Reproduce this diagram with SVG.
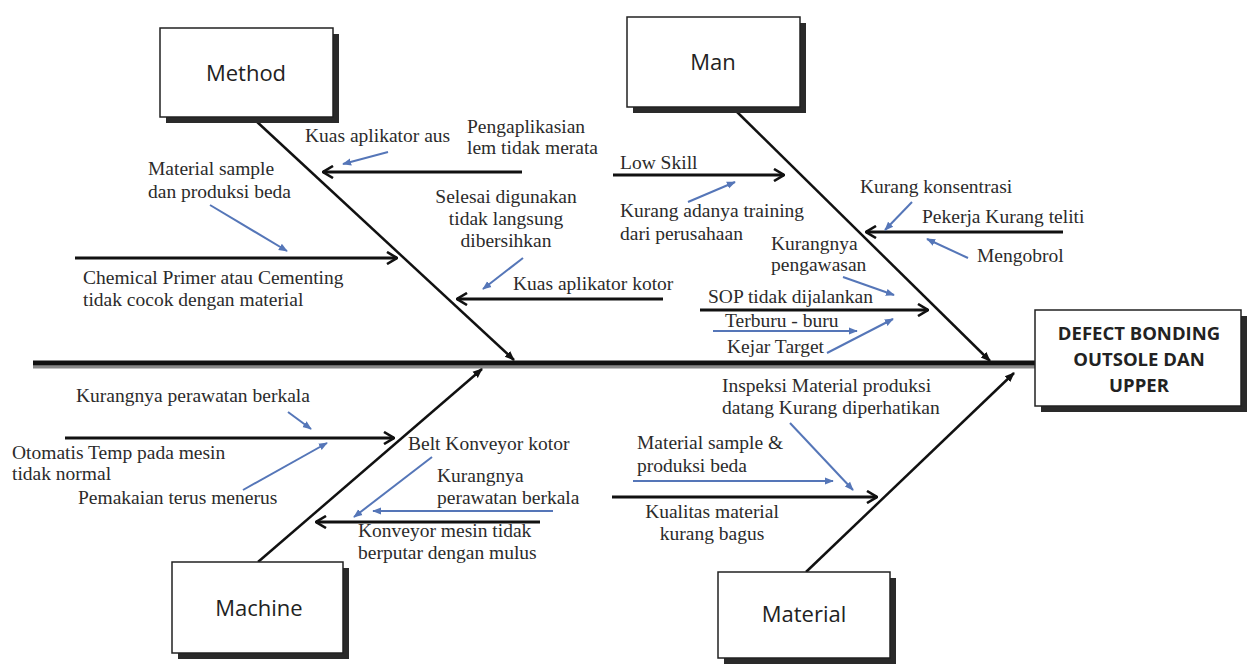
<svg xmlns="http://www.w3.org/2000/svg" width="1247" height="664" viewBox="0 0 1247 664">
<style>
.lbl{font-family:"Liberation Serif","Times New Roman",serif;font-size:19.5px;fill:#2b2b2b}
.box{fill:#fff;stroke:#222;stroke-width:1.5}
.shd{fill:#2a2a2a}
.bt{font-family:"Open Sans","Liberation Sans",sans-serif;font-size:22px;fill:#222;text-anchor:middle}
.et{font-family:"Open Sans","Liberation Sans",sans-serif;font-size:18.5px;font-weight:bold;fill:#222;text-anchor:middle}
.bone{stroke:#111;stroke-width:2.5;fill:none;marker-end:url(#bh)}
.sub{stroke:#111;stroke-width:3;fill:none;marker-end:url(#ch)}
.blue{stroke:#5576b8;stroke-width:2;fill:none;marker-end:url(#blh)}
</style>
<defs>
<marker id="ch" markerUnits="userSpaceOnUse" viewBox="0 0 12 14" refX="11" refY="7" markerWidth="12" markerHeight="14" orient="auto">
<path d="M1,1 L11,7 L1,13" fill="none" stroke="#111" stroke-width="2.6"/>
</marker>
<marker id="bh" markerUnits="userSpaceOnUse" viewBox="0 0 10 10" refX="9" refY="5" markerWidth="10" markerHeight="10" orient="auto">
<path d="M0,1 L10,5 L0,9 Z" fill="#111"/>
</marker>
<marker id="blh" markerUnits="userSpaceOnUse" viewBox="0 0 10 10" refX="9" refY="5" markerWidth="9" markerHeight="9" orient="auto">
<path d="M0,1 L10,5 L0,9 Z" fill="#5576b8"/>
</marker>
</defs>
<rect width="1247" height="664" fill="#fff"/>

<g id="connectors">
<line x1="33" y1="367" x2="1035" y2="367" stroke="#888" stroke-width="3"/>
<line x1="33" y1="363" x2="1035" y2="363" stroke="#111" stroke-width="5"/>
<line class="bone" x1="255" y1="120" x2="514" y2="360"/>
<line class="bone" x1="733" y1="108" x2="990" y2="361"/>
<line class="bone" x1="258" y1="562" x2="482" y2="369"/>
<line class="bone" x1="806" y1="572" x2="1014" y2="373"/>
<line class="sub" x1="522" y1="172" x2="323" y2="172"/>
<line class="sub" x1="75" y1="258" x2="397" y2="258"/>
<line class="sub" x1="663" y1="299" x2="457" y2="299"/>
<line class="sub" x1="613" y1="175" x2="784" y2="175"/>
<line class="sub" x1="1063" y1="232" x2="866" y2="232"/>
<line class="sub" x1="700" y1="310" x2="928" y2="310"/>
<line class="sub" x1="65" y1="438" x2="394" y2="438"/>
<line class="sub" x1="540" y1="522" x2="316" y2="522"/>
<line class="sub" x1="612" y1="497" x2="877" y2="497"/>
<line class="blue" x1="388" y1="152" x2="343" y2="164"/>
<line class="blue" x1="210" y1="205" x2="287" y2="251"/>
<line class="blue" x1="523" y1="258" x2="483" y2="289"/>
<line class="blue" x1="688" y1="202" x2="735" y2="182"/>
<line class="blue" x1="912" y1="202" x2="885" y2="230"/>
<line class="blue" x1="968" y1="258" x2="927" y2="239"/>
<line class="blue" x1="843" y1="277" x2="894" y2="295"/>
<line class="blue" x1="713" y1="331" x2="857" y2="331"/>
<line class="blue" x1="827" y1="353" x2="893" y2="319"/>
<line class="blue" x1="288" y1="412" x2="311" y2="429"/>
<line class="blue" x1="243" y1="490" x2="327" y2="443"/>
<line class="blue" x1="432" y1="457" x2="354" y2="517"/>
<line class="blue" x1="553" y1="511" x2="373" y2="511"/>
<line class="blue" x1="790" y1="423" x2="853" y2="490"/>
<line class="blue" x1="633" y1="481" x2="833" y2="481"/>
</g>

<g id="method">
<rect class="shd" x="166" y="34" width="173" height="89"/>
<rect class="box" x="160" y="28" width="173" height="89"/>
<text class="bt" x="246" y="81">Method</text>
</g>
<g id="man">
<rect class="shd" x="633" y="23" width="173" height="90"/>
<rect class="box" x="627" y="17" width="173" height="90"/>
<text class="bt" x="713" y="70">Man</text>
</g>
<g id="machine">
<rect class="shd" x="178" y="568" width="171" height="91"/>
<rect class="box" x="172" y="562" width="171" height="91"/>
<text class="bt" x="259" y="616">Machine</text>
</g>
<g id="material">
<rect class="shd" x="724" y="578" width="172" height="86"/>
<rect class="box" x="718" y="572" width="172" height="86"/>
<text class="bt" x="804" y="622">Material</text>
</g>
<g id="effect">
<rect class="shd" x="1041" y="316" width="206" height="96"/>
<rect class="box" x="1035" y="310" width="206" height="96"/>
<text class="et" x="1139" y="340">DEFECT BONDING</text>
<text class="et" x="1139" y="366">OUTSOLE DAN</text>
<text class="et" x="1139" y="392">UPPER</text>
</g>

<g id="labels">
<text class="lbl" x="305" y="142">Kuas aplikator aus</text>
<text class="lbl" x="467" y="133">Pengaplikasian</text>
<text class="lbl" x="467" y="154">lem tidak merata</text>
<text class="lbl" x="148" y="175">Material sample</text>
<text class="lbl" x="148" y="198">dan produksi beda</text>
<text class="lbl" x="83" y="284">Chemical Primer atau Cementing</text>
<text class="lbl" x="83" y="306">tidak cocok dengan material</text>
<text class="lbl" x="506" y="203" text-anchor="middle">Selesai digunakan</text>
<text class="lbl" x="506" y="225" text-anchor="middle">tidak langsung</text>
<text class="lbl" x="506" y="247" text-anchor="middle">dibersihkan</text>
<text class="lbl" x="513" y="290">Kuas aplikator kotor</text>
<text class="lbl" x="620" y="169">Low Skill</text>
<text class="lbl" x="620" y="217">Kurang adanya training</text>
<text class="lbl" x="620" y="240">dari perusahaan</text>
<text class="lbl" x="860" y="193">Kurang konsentrasi</text>
<text class="lbl" x="922" y="223">Pekerja Kurang teliti</text>
<text class="lbl" x="977" y="262">Mengobrol</text>
<text class="lbl" x="771" y="250">Kurangnya</text>
<text class="lbl" x="771" y="271">pengawasan</text>
<text class="lbl" x="708" y="303">SOP tidak dijalankan</text>
<text class="lbl" x="725" y="327">Terburu - buru</text>
<text class="lbl" x="727" y="353">Kejar Target</text>
<text class="lbl" x="76" y="402">Kurangnya perawatan berkala</text>
<text class="lbl" x="12" y="459">Otomatis Temp pada mesin</text>
<text class="lbl" x="12" y="480">tidak normal</text>
<text class="lbl" x="78" y="504">Pemakaian terus menerus</text>
<text class="lbl" x="408" y="450">Belt Konveyor kotor</text>
<text class="lbl" x="437" y="482">Kurangnya</text>
<text class="lbl" x="437" y="504">perawatan berkala</text>
<text class="lbl" x="358" y="537">Konveyor mesin tidak</text>
<text class="lbl" x="358" y="559">berputar dengan mulus</text>
<text class="lbl" x="722" y="392">Inspeksi Material produksi</text>
<text class="lbl" x="722" y="414">datang Kurang diperhatikan</text>
<text class="lbl" x="637" y="449">Material sample &amp;</text>
<text class="lbl" x="637" y="472">produksi beda</text>
<text class="lbl" x="712" y="518" text-anchor="middle">Kualitas material</text>
<text class="lbl" x="712" y="540" text-anchor="middle">kurang bagus</text>
</g>
</svg>
